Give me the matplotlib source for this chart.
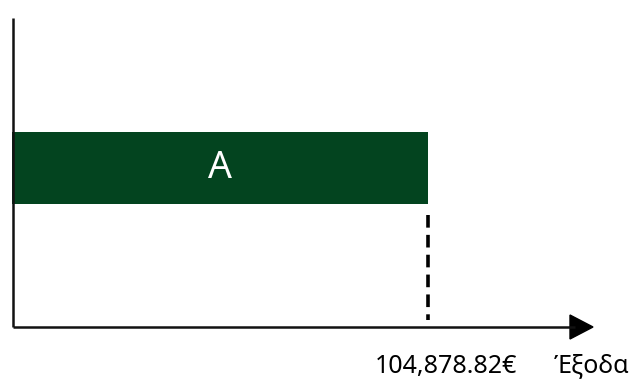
import matplotlib
matplotlib.use("Agg")
import matplotlib.pyplot as plt
from matplotlib.patches import Polygon

# data
categories = ["A"]
values = [104878.82]
value_label = "104,878.82€"
axis_label = "Έξοδα"
bar_color = "#03441f"

plt.rcParams['font.family'] = ['Noto Sans', 'DejaVu Sans']

W, H = 632, 383
fig = plt.figure(figsize=(W / 100, H / 100), dpi=100)
ax = fig.add_axes([0, 0, 1, 1])

# pixel scale: x=0 at 12px, value at 428px; bar centred at y=168px, 72px tall
s = values[0] / 416.0
ax.set_xlim(-12 * s, (W - 12) * s)
ax.set_ylim(-(H - 168) / 72.0, 168 / 72.0)
ax.axis("off")

ax.barh([0], values, height=1.0, left=0, color=bar_color, edgecolor="none", zorder=2)
for i, (c, v) in enumerate(zip(categories, values)):
    ax.text(v / 2, i, c, color="white", fontsize=27, ha="center", va="center", zorder=3)

# axes drawn as lines in pixel fraction coordinates
def px(x, y):
    return x / W, 1 - y / H

tr = ax.transAxes
ax.plot(*zip(px(13, 18), px(13, 327)), color="#111111", lw=1.8, transform=tr, solid_capstyle="butt")
ax.plot(*zip(px(13, 327), px(575, 327)), color="#111111", lw=1.8, transform=tr, solid_capstyle="butt")
ax.add_patch(Polygon([px(570, 315), px(593, 327), px(570, 339)], closed=True,
                     color="black", transform=tr))

# dashed marker under the bar end
ax.plot([values[0], values[0]], [-(215 - 168) / 72.0, -(320 - 168) / 72.0],
        color="black", lw=2.6, linestyle=(0, (3.5, 2)), zorder=2)

ax.text(values[0] + 18 * s, -(366 - 168) / 72.0, value_label, fontsize=18, ha="center", va="center")
ax.text(*px(629, 366), axis_label, fontsize=18, ha="right", va="center", transform=tr)

fig.savefig("out.png", dpi=100)
